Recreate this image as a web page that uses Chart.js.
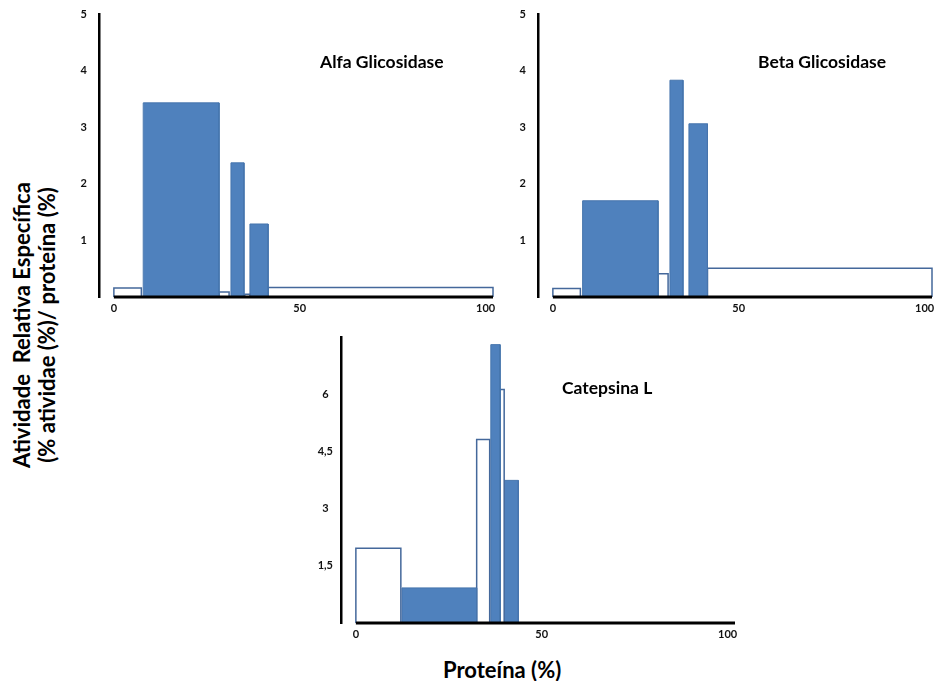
<!DOCTYPE html>
<html>
<head>
<meta charset="utf-8">
<script src="https://cdn.jsdelivr.net/npm/chart.js@4.4.1/dist/chart.umd.min.js"></script>
<style>
  body { margin: 0; width: 935px; height: 681px; position: relative; overflow: hidden; background: #fff; font-family: Lato, "Open Sans", sans-serif; }
  canvas { position: absolute; }
  .txt { position: absolute; font-weight: bold; color: #000; white-space: pre; }
  .title { font-size: 17.5px; }
  .ytitle { left: 34px; top: 325px; font-size: 22px; line-height: 25px; text-align: center; transform: translate(-50%, -50%) rotate(-90deg); }
  .xtitle { left: 443px; top: 656px; font-size: 22px; }
</style>
</head>
<body>
<canvas id="alfa"></canvas>
<canvas id="beta"></canvas>
<canvas id="catepsina"></canvas>

<div class="txt title" style="left:320px; top:51px;">Alfa Glicosidase</div>
<div class="txt title" style="left:758px; top:51px;">Beta Glicosidase</div>
<div class="txt title" style="left:562px; top:377px;">Catepsina L</div>
<div class="txt ytitle">Atividade  Relativa Específica
(% atividae (%)/ proteína (%)</div>
<div class="txt xtitle">Proteína (%)</div>

<script>
// fractions: protein % range (left/right) and relative specific activity
const alfaLeft = [0, 7.9, 28.3, 31.5, 35.2, 36.6, 41.5];
const alfaRight = [7.4, 28.3, 31.0, 35.0, 36.6, 41.5, 102];
const alfaActivity = [0.16, 3.43, 0.09, 2.37, 0.05, 1.29, 0.17];
const alfaPooled = [false, true, false, true, false, true, false];

const betaLeft = [0, 8.0, 28.3, 31.5, 36.6, 41.6];
const betaRight = [7.4, 28.3, 31.0, 35.0, 41.6, 102];
const betaActivity = [0.15, 1.70, 0.41, 3.83, 3.06, 0.51];
const betaPooled = [false, true, false, true, true, false];

const catLeft = [0, 12.4, 32.5, 36.3, 38.8, 39.9];
const catRight = [12.1, 32.5, 36.0, 38.8, 39.9, 43.7];
const catActivity = [1.96, 0.92, 4.81, 7.30, 6.12, 3.74];
const catPooled = [false, true, false, true, false, true];

const proteinTicks = [0, 50, 100];
const glicoTicks = [1, 2, 3, 4, 5];
const catTicks = [1.5, 3, 4.5, 6];

const X_MIN = -4, X_MAX = 102;
const tickFont = { family: 'Lato', size: 11, weight: 'bold' };

function panel (id, area, lefts, rights, acts, pooled, yTicks, yMax, yPad) {
    const padTop = 24, padRight = 17, yW = 39, xH = 27;
    const canvas = document.getElementById(id);
    canvas.width = yW + (area.right - area.left) + padRight;
    canvas.height = padTop + (area.bottom - area.top) + xH;
    canvas.style.left = (area.left - yW) + 'px';
    canvas.style.top = (area.top - padTop) + 'px';

    const datasets = lefts.map((l, i) => ({
        data: [{ x: l, y: 0 }, { x: l, y: acts[i] }, { x: rights[i], y: acts[i] }, { x: rights[i], y: 0 }],
        fill: 'origin',
        backgroundColor: pooled[i] ? '#4f81bd' : '#ffffff',
        borderColor: pooled[i] ? '#4675ad' : '#44689b',
        borderWidth: pooled[i] ? 1 : 1.5,
        borderJoinStyle: 'miter',
        pointRadius: 0,
        tension: 0,
        clip: false
    }));
    // x axis line, from 0 to end of scale
    datasets.push({
        data: [{ x: proteinTicks[0], y: 0 }, { x: X_MAX, y: 0 }],
        fill: false,
        borderColor: '#000',
        borderWidth: 3,
        pointRadius: 0,
        order: -1,
        clip: false
    });

    new Chart(canvas, {
        type: 'line',
        data: { datasets },
        options: {
            responsive: false,
            animation: false,
            devicePixelRatio: 1,
            layout: { padding: { top: padTop, right: padRight, left: 0, bottom: 0 } },
            plugins: { legend: { display: false }, tooltip: { enabled: false } },
            scales: {
                x: {
                    type: 'linear',
                    min: X_MIN,
                    max: X_MAX,
                    grid: { display: false, drawTicks: false },
                    border: { display: false },
                    afterBuildTicks: s => { s.ticks = proteinTicks.map(v => ({ value: v })); },
                    afterFit: s => { s.height = xH; },
                    ticks: { padding: 5, color: '#111', font: tickFont, autoSkip: false, maxRotation: 0, callback: v => String(v) }
                },
                y: {
                    min: 0,
                    max: yMax,
                    grid: { display: false, drawTicks: false },
                    border: { display: true, color: '#000', width: 2.5 },
                    afterBuildTicks: s => { s.ticks = yTicks.map(v => ({ value: v })); },
                    afterFit: s => { s.width = yW; },
                    ticks: { padding: yPad, crossAlign: 'center', color: '#111', font: tickFont, autoSkip: false, callback: v => String(v).replace('.', ',') }
                }
            }
        }
    });
}

panel('alfa', { left: 99, right: 493, top: 14, bottom: 297 }, alfaLeft, alfaRight, alfaActivity, alfaPooled, glicoTicks, 5, 12);
panel('beta', { left: 538, right: 932, top: 14, bottom: 297 }, betaLeft, betaRight, betaActivity, betaPooled, glicoTicks, 5, 12);
panel('catepsina', { left: 341, right: 735, top: 337, bottom: 623 }, catLeft, catRight, catActivity, catPooled, catTicks, 7.5, 8);
</script>
</body>
</html>
